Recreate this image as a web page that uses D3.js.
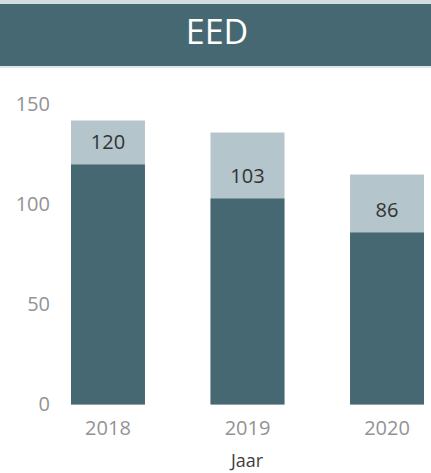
<!DOCTYPE html>
<html>
<head>
<meta charset="utf-8">
<script src="https://cdn.jsdelivr.net/npm/d3@7"></script>
<style>
  html, body { margin: 0; padding: 0; background: #fff; }
  svg { display: block; font-family: "Open Sans", "Noto Sans", sans-serif; }
</style>
</head>
<body>
<svg id="chart" width="431" height="473"></svg>
<script>
const title = "EED";
const axisTitle = "Jaar";
const categories = ["2018", "2019", "2020"];
const mainValues = [120, 103, 86];
const totalValues = [142, 136, 115];
const yTicks = [0, 50, 100, 150];

const svg = d3.select("#chart");
const W = 431;

// header
svg.append("rect").attr("x", 0).attr("y", 0).attr("width", W).attr("height", 4).attr("fill", "#d3dcdf");
svg.append("rect").attr("x", 0).attr("y", 4).attr("width", W).attr("height", 62).attr("fill", "#466873");
svg.append("rect").attr("x", 0).attr("y", 66).attr("width", W).attr("height", 2).attr("fill", "#dfe6e8");
svg.append("text").attr("x", 217).attr("y", 32).attr("dy", "0.35em")
  .attr("text-anchor", "middle").attr("fill", "#ffffff")
  .style("font-size", "34px").text(title);

const x = d3.scaleBand().domain(categories).range([71, 424]).paddingInner(0.47).paddingOuter(0);
const y = d3.scaleLinear().domain([0, 150]).range([404.5, 104.5]);

// y axis labels
const yAxis = d3.axisLeft(y).tickValues(yTicks).tickSize(0).tickPadding(0);
const gy = svg.append("g").attr("transform", "translate(50,0)").call(yAxis);
gy.select(".domain").remove();
gy.selectAll("text").attr("fill", "#939393").style("font-size", "20px")
  .style("font-family", "'Open Sans', sans-serif");

// x axis labels
const xAxis = d3.axisBottom(x).tickSize(0).tickPadding(0);
const gx = svg.append("g").attr("transform", "translate(0,421)").call(xAxis);
gx.select(".domain").remove();
gx.selectAll("text").attr("fill", "#939393").style("font-size", "20px")
  .style("font-family", "'Open Sans', sans-serif");

// bars
const data = categories.map((c, i) => ({ c, main: mainValues[i], total: totalValues[i] }));
svg.selectAll("rect.total").data(data).enter().append("rect").attr("class", "total")
  .attr("x", d => x(d.c)).attr("width", x.bandwidth())
  .attr("y", d => y(d.total)).attr("height", d => y(0) - y(d.total))
  .attr("fill", "#b4c5cb");
svg.selectAll("rect.main").data(data).enter().append("rect").attr("class", "main")
  .attr("x", d => x(d.c)).attr("width", x.bandwidth())
  .attr("y", d => y(d.main)).attr("height", d => y(0) - y(d.main))
  .attr("fill", "#466873");

svg.selectAll("text.lbl").data(data).enter().append("text").attr("class", "lbl")
  .attr("x", d => x(d.c) + x.bandwidth() / 2)
  .attr("y", d => y(d.main) - 23).attr("dy", "0.35em")
  .attr("text-anchor", "middle").attr("fill", "#333333")
  .style("font-size", "20px").text(d => d.main);

svg.append("text").attr("x", 247).attr("y", 461).attr("dy", "0.35em")
  .attr("text-anchor", "middle").attr("fill", "#404040")
  .style("font-size", "18px").text(axisTitle);
</script>
</body>
</html>
